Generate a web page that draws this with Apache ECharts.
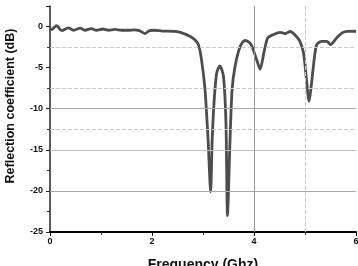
<!DOCTYPE html>
<html><head><meta charset="utf-8">
<script src="https://cdn.jsdelivr.net/npm/echarts@6/dist/echarts.min.js"></script>
<style>html,body{margin:0;padding:0;background:#fff}#c{width:358px;height:266px}</style>
</head><body><div id="c"></div>
<script>
var freqGHz = [0,0.05,0.13,0.23,0.36,0.46,0.59,0.69,0.81,0.91,1.04,1.15,1.27,1.4,1.55,1.65,1.75,1.86,1.95,2.05,2.2,2.45,2.6,2.75,2.84,2.91,2.97,3.04,3.10,3.15,3.18,3.22,3.27,3.33,3.40,3.45,3.48,3.53,3.57,3.63,3.73,3.82,3.9,3.96,4.06,4.12,4.2,4.27,4.37,4.51,4.61,4.71,4.8,4.9,4.97,5.03,5.08,5.13,5.18,5.23,5.33,5.43,5.5,5.62,5.72,5.82,6.0];
var reflectionDb = [-0.4,-0.3,0.1,-0.5,-0.15,-0.45,-0.2,-0.45,-0.25,-0.45,-0.3,-0.45,-0.35,-0.45,-0.45,-0.4,-0.5,-0.85,-0.5,-0.45,-0.55,-0.6,-0.8,-1.2,-1.6,-2.2,-4.0,-7.7,-13.8,-20.1,-13.8,-8.9,-5.6,-4.8,-6.0,-11.7,-23.0,-13.8,-7.7,-4.8,-2.4,-1.7,-1.9,-2.4,-4.2,-5.2,-3.0,-1.35,-1.0,-0.7,-0.85,-0.6,-1.0,-1.8,-3.2,-6.5,-9.1,-6.8,-4.0,-2.2,-1.8,-1.8,-2.2,-1.4,-0.8,-0.6,-0.57];
var xTicks = [0,2,4,6];
var yTicks = [-25,-20,-15,-10,-5,0];

var pts = freqGHz.map(function(f,i){return [f, reflectionDb[i]];});
var chart = echarts.init(document.getElementById('c'), null, {renderer:'canvas'});
var lbl = {fontFamily:'Liberation Sans, Arial', fontWeight:'bold', fontSize:9, color:'#111'};
chart.setOption({
  animation:false,
  grid:{left:50, right:2, top:6, bottom:34, containLabel:false, outerBoundsMode:'none'},
  xAxis:{type:'value', min:0, max:6, interval:2,
    name:'Frequency (Ghz)', nameLocation:'middle', nameGap:26,
    nameTextStyle:{fontFamily:'Liberation Sans, Arial', fontWeight:'bold', fontSize:14, color:'#111'},
    axisLine:{onZero:false, lineStyle:{color:'#000', width:2}},
    axisTick:{length:4, lineStyle:{color:'#000'}},
    minorTick:{show:true, splitNumber:2, length:3, lineStyle:{color:'#333'}},
    axisLabel:Object.assign({margin:5, formatter:function(v){return xTicks.indexOf(v)>=0? String(v):'';}}, lbl),
    splitLine:{show:false}},
  yAxis:{type:'value', min:-25, max:2.5, interval:5,
    name:'Reflection coefficient (dB)', nameLocation:'middle', nameGap:33,
    nameTextStyle:{fontFamily:'Liberation Sans, Arial', fontWeight:'bold', fontSize:12.5, color:'#111', padding:[0,0,0,26]},
    axisLine:{onZero:false, lineStyle:{color:'#222', width:1.5}},
    axisTick:{length:4, lineStyle:{color:'#222'}},
    minorTick:{show:true, splitNumber:2, length:3, lineStyle:{color:'#333'}},
    axisLabel:Object.assign({margin:7, showMaxLabel:false, formatter:function(v){return yTicks.indexOf(v)>=0? String(v):'';}}, lbl),
    splitLine:{show:false}},
  series:[{type:'line', data:pts, showSymbol:false, smooth:0.25,
    lineStyle:{color:'#4d4d4d', width:2.8},
    markLine:{silent:true, symbol:'none', label:{show:false}, animation:false,
      data:[
        {yAxis:-2.5, lineStyle:{type:'dashed', color:'#c8c8c8', width:1}},
        {yAxis:-7.5, lineStyle:{type:'dashed', color:'#c8c8c8', width:1}},
        {yAxis:-12.5, lineStyle:{type:'dashed', color:'#c8c8c8', width:1}},
        {yAxis:-10, lineStyle:{type:'solid', color:'#a8a8a8', width:1}},
        {yAxis:-15, lineStyle:{type:'solid', color:'#bdbdbd', width:1}},
        {yAxis:-20, lineStyle:{type:'solid', color:'#a8a8a8', width:1}},
        {xAxis:4, lineStyle:{type:'solid', color:'#999', width:1}},
        {xAxis:5, lineStyle:{type:'dashed', color:'#c8c8c8', width:1}}
      ]}
  }]
});
</script></body></html>
